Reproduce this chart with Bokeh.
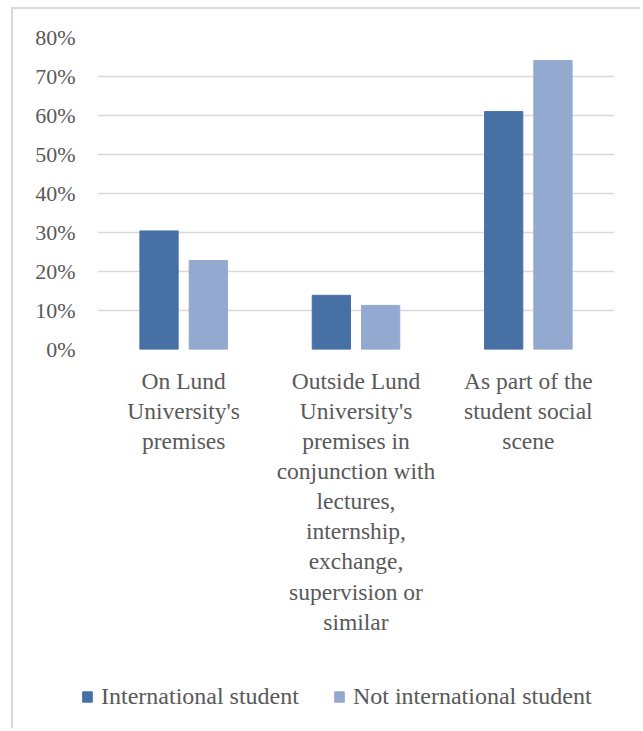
from bokeh.plotting import figure
from bokeh.models import (FactorRange, Range1d, ColumnDataSource, NumeralTickFormatter,
                          FixedTicker, Legend, LegendItem)
from bokeh.transform import dodge
from bokeh.embed import file_html
from bokeh.resources import INLINE

categories = [
    "On Lund\nUniversity's\npremises",
    "Outside Lund\nUniversity's\npremises in\nconjunction with\nlectures,\ninternship,\nexchange,\nsupervision or\nsimilar",
    "As part of the\nstudent social\nscene",
]
international = [0.304, 0.139, 0.610]
not_international = [0.228, 0.113, 0.741]
series_names = ["International student", "Not international student"]
y_ticks = [0.0, 0.1, 0.2, 0.3, 0.4, 0.5, 0.6, 0.7, 0.8]

DARK = "#4771a5"
LIGHT = "#93a9cf"
TEXT = "#595959"
GRID = "#d9d9d9"
FONT = "Liberation Serif"

source = ColumnDataSource(dict(cat=categories, intl=international, notintl=not_international))

p = figure(
    x_range=FactorRange(factors=categories),
    y_range=Range1d(0, 0.8),
    width=629, height=640,
    output_backend="svg", toolbar_location=None,
    min_border_left=84, min_border_right=28, min_border_top=28, min_border_bottom=300,
)
p.margin = (7, 0, 0, 11)
p.styles = {"border-left": "2px solid #d9d9d9", "border-top": "2px solid #d9d9d9"}

r1 = p.vbar(x=dodge("cat", -0.143, range=p.x_range), top="intl", width=0.222,
            source=source, fill_color=DARK, line_color=DARK)
r2 = p.vbar(x=dodge("cat", 0.143, range=p.x_range), top="notintl", width=0.222,
            source=source, fill_color=LIGHT, line_color=LIGHT)

p.outline_line_color = None
p.xgrid.grid_line_color = None
p.ygrid.grid_line_color = GRID
p.ygrid.grid_line_width = 1.6
p.ygrid.ticker = FixedTicker(ticks=y_ticks)

p.yaxis.ticker = FixedTicker(ticks=y_ticks)
p.yaxis.formatter = NumeralTickFormatter(format="0%")
p.yaxis.axis_line_color = None
p.yaxis.major_tick_line_color = None
p.yaxis.minor_tick_line_color = None
p.yaxis.major_label_standoff = 16
p.yaxis.major_label_text_font = FONT
p.yaxis.major_label_text_font_size = "22px"
p.yaxis.major_label_text_color = TEXT

p.xaxis.axis_line_color = None
p.xaxis.major_tick_line_color = None
p.xaxis.major_label_standoff = 12
p.xaxis.major_label_text_font = FONT
p.xaxis.major_label_text_font_size = "23.5px"
p.xaxis.major_label_text_color = TEXT
p.xaxis.major_label_text_line_height = 1.16
p.xaxis.major_label_text_align = "center"

# legend panel: a second, axis-less figure whose bars fall outside its view
lp = figure(width=629, height=81, output_backend="svg", toolbar_location=None,
            x_axis_type=None, y_axis_type=None, min_border=0,
            x_range=FactorRange(factors=categories), y_range=Range1d(1, 2))
lp.margin = (0, 0, 0, 11)
lp.styles = {"border-left": "2px solid #d9d9d9"}
lp.outline_line_color = None
lp.xgrid.visible = False
lp.ygrid.visible = False
e1 = lp.vbar(x=dodge("cat", -0.143, range=lp.x_range), top="intl", width=0.222,
             source=source, fill_color=DARK, line_color=DARK)
e2 = lp.vbar(x=dodge("cat", 0.143, range=lp.x_range), top="notintl", width=0.222,
             source=source, fill_color=LIGHT, line_color=LIGHT)

legend = Legend(
    items=[LegendItem(label=series_names[0], renderers=[e1]),
           LegendItem(label=series_names[1], renderers=[e2])],
    orientation="horizontal",
    location=(68, 18),
    label_text_font=FONT,
    label_text_font_size="24px",
    label_text_color=TEXT,
    glyph_width=12, glyph_height=13,
    label_standoff=8, spacing=34,
    border_line_color=None,
    background_fill_alpha=0,
    margin=0,
)
lp.add_layout(legend, "center")

open("out.html", "w").write(file_html([p, lp], INLINE))
